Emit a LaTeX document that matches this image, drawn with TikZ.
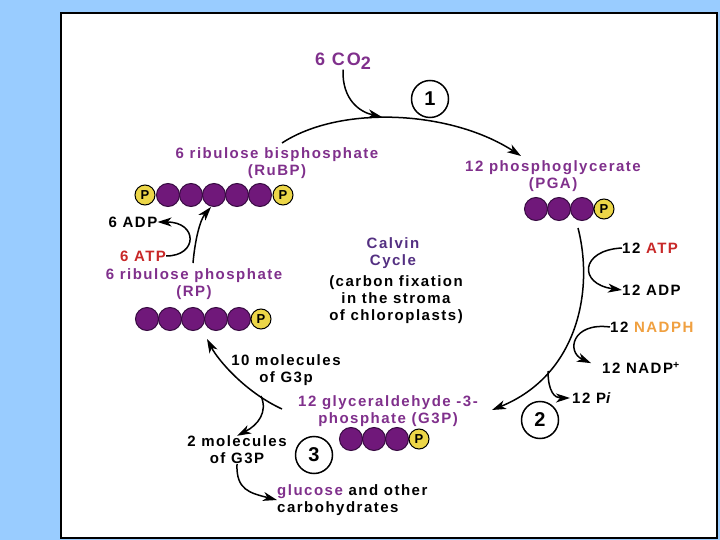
\documentclass[tikz,border=0pt]{standalone}
\usepackage{fontspec}
\setmainfont{Liberation Sans}
\newfontfamily\lblfont[LetterSpace=10]{Liberation Sans}
\usetikzlibrary{arrows.meta}
\usetikzlibrary{positioning}
\definecolor{bgblue}{RGB}{153,204,255}
\definecolor{molpurple}{RGB}{128,48,140}
\definecolor{cyclepurple}{RGB}{84,48,130}
\definecolor{cpurple}{RGB}{112,24,122}
\definecolor{cdark}{RGB}{55,10,65}
\definecolor{pyellow}{RGB}{236,214,72}
\definecolor{atpred}{RGB}{200,40,40}
\definecolor{nadorange}{RGB}{240,160,64}
\tikzstyle{plain} = [font=\lblfont\bfseries\fontsize{15}{17}\selectfont, align=center, inner sep=0pt]
\tikzstyle{mol} = [plain, text=molpurple]
\tikzstyle{side} = [plain, anchor=west, align=left]
\tikzstyle{carbon} = [draw=cdark, fill=cpurple, circle, minimum size=23pt, inner sep=0pt, line width=1pt]
\tikzstyle{phos} = [draw=black, fill=pyellow, circle, minimum size=20pt, inner sep=0pt, line width=1pt, font=\bfseries\fontsize{13}{13}\selectfont]
\tikzstyle{stepnum} = [draw, circle, minimum size=37pt, inner sep=0pt, line width=1.5pt, font=\bfseries\fontsize{20}{20}\selectfont]
\tikzstyle{flow} = [line width=1.5pt, -{Stealth[length=14pt,width=9pt,inset=4pt]}]

\begin{document}
\begin{tikzpicture}[x=1pt,y=-1pt]
  \fill[bgblue] (0,0) rectangle (720,540);
  \draw[line width=1.5pt, fill=white] (61,13) rectangle (717,538);

  \node[mol] (co2) at (343,61) {\fontsize{18}{18}\selectfont 6 CO\raisebox{-0.45ex}{2}};
  \node[stepnum] (s1) at (430,99) {1};
  \node[stepnum] (s2) at (540,420) {2};
  \node[stepnum] (s3) at (314,455) {3};

  \node[mol] (rubp) at (277,163) {6 ribulose bisphosphate\\(RuBP)};
  \node[mol] (pga) at (553,176) {12 phosphoglycerate\\(PGA)};
  \node[mol] (rp) at (194,284) {6 ribulose phosphate\\(RP)};
  \node[mol] (g3p) at (388,411) {12 glyceraldehyde -3-\\phosphate (G3P)};
  \node[plain, text=cyclepurple] (calvin) at (393,253) {Calvin\\Cycle};
  \node[plain] (where) at (396,300) {(carbon fixation\\in the stroma\\of chloroplasts)};

  \node[plain] (adpL) at (133,222) {6 ADP};
  \node[plain, text=atpred] (atpL) at (143,256) {6 ATP};
  \node[side] (atpR) at (622,248) {12 \textcolor{atpred}{ATP}};
  \node[side] (adpR) at (622,290) {12 ADP};
  \node[side] (nadph) at (610,327) {12 \textcolor{nadorange}{NADPH}};
  \node[side] (nadp) at (602,368) {12 NADP\textsuperscript{+}};
  \node[side] (pi) at (572,398) {12 P\textit{i}};
  \node[plain] (ten) at (286,370) {10 molecules\\of G3p};
  \node[plain] (two) at (237,450) {2 molecules\\of G3P};
  \node[side] (gluc) at (277,500) {\textcolor{molpurple}{glucose} and other\\carbohydrates};

  \node[phos] (rubpp1) at (145,195) {P};
  \foreach \i/\x in {1/168,2/191,3/214,4/237,5/260}
    \node[carbon] (rubpc\i) at (\x,195) {};
  \node[phos] (rubpp2) at (283,195) {P};

  \foreach \i/\x in {1/147,2/170,3/193,4/216,5/239}
    \node[carbon] (rpc\i) at (\x,319) {};
  \node[phos] (rpp) at (261,319) {P};

  \foreach \i/\x in {1/536,2/559,3/582}
    \node[carbon] (pgac\i) at (\x,209) {};
  \node[phos] (pgap) at (604,209) {P};

  \foreach \i/\x in {1/351,2/374,3/397}
    \node[carbon] (g3pc\i) at (\x,439) {};
  \node[phos] (g3pp) at (419,439) {P};

  \coordinate (topL) at (282,143);
  \coordinate (topR) at (521,156);
  \coordinate (fix) at (382,117);
  \coordinate (rightT) at (578,228);
  \coordinate (rightB) at (492,410);
  \coordinate (leftB) at (282,409);
  \coordinate (leftT) at (207,339);
  \coordinate (split) at (261,396);
  \coordinate (rpout) at (193,263);
  \coordinate (rubpin) at (211,207);
  \coordinate (piout) at (548,371);

  \draw[flow] (topL) .. controls (340,105) and (450,110) .. (topR);
  \draw[flow] (co2.south) .. controls (342,100) and (360,112) .. (fix);
  \draw[flow] (rightT) .. controls (594,290) and (578,375) .. (rightB);
  \draw[flow] (atpR.west) .. controls (580,250) and (578,284) .. (adpR.west);
  \draw[flow, shorten >=12pt] (nadph.west) .. controls (572,322) and (566,352) .. (nadp.west);
  \draw[flow, shorten >=2pt] (piout) .. controls (548,392) and (555,398) .. (pi.west);
  \draw[flow] (leftB) .. controls (245,392) and (218,360) .. (leftT);
  \draw[flow] (split) .. controls (268,412) and (258,425) .. (two.north);
  \draw[flow] (two.south) .. controls (236,490) and (250,493) .. (gluc.west);
  \draw[flow] (rpout) .. controls (195,240) and (200,220) .. (rubpin);
  \draw[flow] (atpL.east) .. controls (198,256) and (198,222) .. (adpL.east);
\end{tikzpicture}
\end{document}
